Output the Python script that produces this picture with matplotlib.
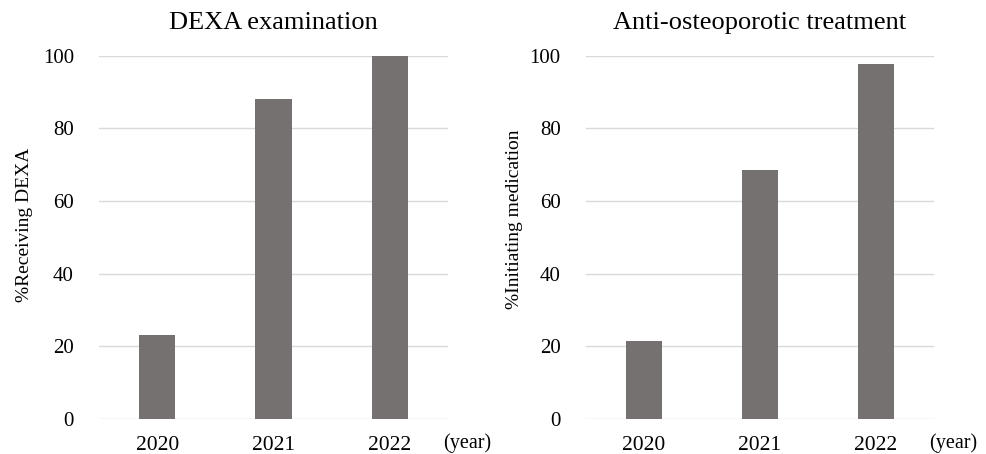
import numpy as np
import matplotlib.pyplot as plt

plt.rcParams['font.family'] = ['Liberation Serif', 'DejaVu Serif']

years = ['2020', '2021', '2022']
dexa_pct = [23.1, 88.1, 100.0]
treat_pct = [21.5, 68.7, 97.8]

titles = ['DEXA examination', 'Anti-osteoporotic treatment']
ylabels = ['%Receiving DEXA', '%Initiating medication']

bar_color = '#767171'
grid_color = '#d9d9d9'

fig = plt.figure(figsize=(9.87, 4.54), dpi=100)
ax1 = fig.add_axes([0.1003, 0.077, 0.3536, 0.800])
ax2 = fig.add_axes([0.5934, 0.077, 0.3529, 0.800])

# label spots picked by eye from the reference
label_xy = [(-0.19, 0.535), (-0.18, 0.55)]

for ax, vals, title, ylab, lxy in zip([ax1, ax2], [dexa_pct, treat_pct],
                                      titles, ylabels, label_xy):
    x = np.arange(len(years))
    ax.bar(x, vals, width=0.31, color=bar_color, zorder=3)
    ax.set_xlim(-0.5, len(years) - 0.5)
    ax.set_ylim(0, 100)
    ax.set_yticks(np.arange(0, 101, 20))
    ax.set_xticks(x)
    ax.set_xticklabels(years)
    ax.yaxis.grid(True, color=grid_color, linewidth=1.0, zorder=0)
    ax.set_axisbelow(True)
    for s in ax.spines.values():
        s.set_visible(False)
    ax.tick_params(axis='both', length=0)
    ax.tick_params(axis='x', pad=12, labelsize=15.5)
    ax.tick_params(axis='y', pad=18, labelsize=15)
    ax.set_title(title, fontsize=19, pad=19)
    ax.set_ylabel(ylab, fontsize=14)
    ax.yaxis.set_label_coords(*lxy)
    ax.text(0.986, -0.066, '(year)', transform=ax.transAxes, fontsize=14.5,
            ha='left', va='center')

fig.savefig('out.png', dpi=100)
